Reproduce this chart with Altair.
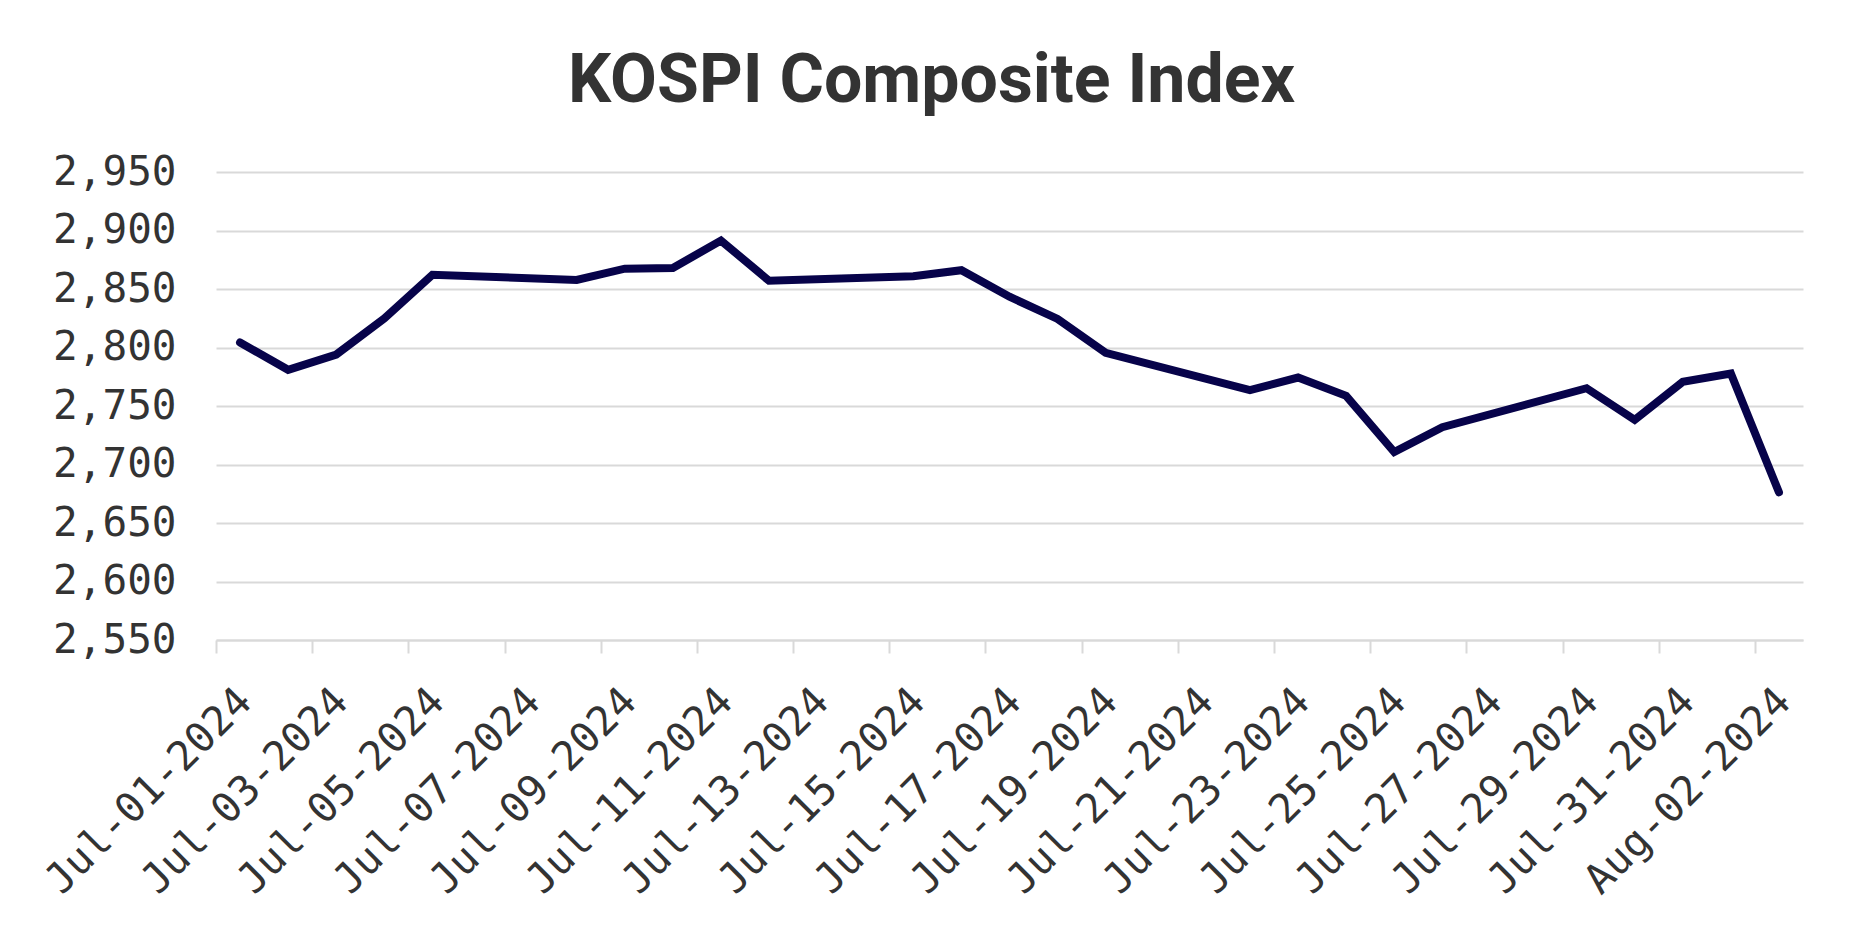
import altair as alt
import pandas as pd

TITLE = "KOSPI Composite Index"

DATES = [
    "2024-07-01", "2024-07-02", "2024-07-03", "2024-07-04", "2024-07-05",
    "2024-07-08", "2024-07-09", "2024-07-10", "2024-07-11", "2024-07-12",
    "2024-07-15", "2024-07-16", "2024-07-17", "2024-07-18", "2024-07-19",
    "2024-07-22", "2024-07-23", "2024-07-24", "2024-07-25", "2024-07-26",
    "2024-07-29", "2024-07-30", "2024-07-31", "2024-08-01", "2024-08-02",
]
CLOSE = [
    2804.3, 2780.9, 2794.0, 2824.9, 2862.2,
    2857.8, 2867.4, 2868.0, 2891.4, 2857.0,
    2860.9, 2866.1, 2843.4, 2824.4, 2795.5,
    2763.5, 2774.3, 2758.7, 2710.7, 2731.9,
    2765.2, 2738.2, 2770.7, 2777.7, 2676.2,
]

Y_TICKS = [2550, 2600, 2650, 2700, 2750, 2800, 2850, 2900, 2950]
X_TICKS = [
    "2024-07-01", "2024-07-03", "2024-07-05", "2024-07-07", "2024-07-09",
    "2024-07-11", "2024-07-13", "2024-07-15", "2024-07-17", "2024-07-19",
    "2024-07-21", "2024-07-23", "2024-07-25", "2024-07-27", "2024-07-29",
    "2024-07-31", "2024-08-02",
]
X_DOMAIN = ["2024-07-01", "2024-08-03"]


def dt(s):
    y, m, d = (int(p) for p in s.split("-"))
    return alt.DateTime(year=y, month=m, date=d, utc=True)


df = pd.DataFrame({"date": DATES, "close": CLOSE})

GRID = "#d9d9d9"
TEXT = "#333333"
MONO = "DejaVu Sans Mono"

chart = (
    alt.Chart(df)
    .mark_line(color="#07034a", strokeWidth=8, strokeCap="round", strokeJoin="miter")
    .encode(
        x=alt.X(
            "date:T",
            timeUnit="utcyearmonthdate",
            bandPosition=0.5,
            title=None,
            scale=alt.Scale(domain=[dt(s) for s in X_DOMAIN], nice=False),
            axis=alt.Axis(
                values=[dt(s) for s in X_TICKS],
                format="%b-%d-%Y",
                labelAngle=-45,
                labelAlign="right",
                labelBaseline="middle",
                labelFont=MONO,
                labelFontSize=41,
                labelColor=TEXT,
                labelPadding=42,
                labelOffset=29,
                labelLimit=1000,
                labelOverlap=False,
                labelFlush=False,
                domain=True,
                domainColor=GRID,
                domainWidth=2,
                ticks=True,
                tickColor=GRID,
                tickWidth=2,
                tickSize=13,
                grid=False,
            ),
        ),
        y=alt.Y(
            "close:Q",
            title=None,
            scale=alt.Scale(domain=[2550, 2950], nice=False, zero=False),
            axis=alt.Axis(
                values=Y_TICKS,
                format=",d",
                labelFont=MONO,
                labelFontSize=41,
                labelColor=TEXT,
                labelPadding=40,
                domain=False,
                ticks=False,
                grid=True,
                gridColor=GRID,
                gridWidth=2,
            ),
        ),
    )
    .properties(
        width=1587,
        height=468,
        background="white",
        title=alt.TitleParams(
            TITLE,
            font="Roboto",
            fontSize=68,
            fontWeight="bold",
            color=TEXT,
            anchor="middle",
            dx=-78,
            offset=35,
        ),
        autosize=alt.AutoSizeParams(type="none"),
        padding={"left": 208, "top": 164, "right": 40, "bottom": 282},
    )
    .configure_view(stroke=None, strokeWidth=0)
)

chart.save("out.html", embed_options={"renderer": "svg", "actions": False})
